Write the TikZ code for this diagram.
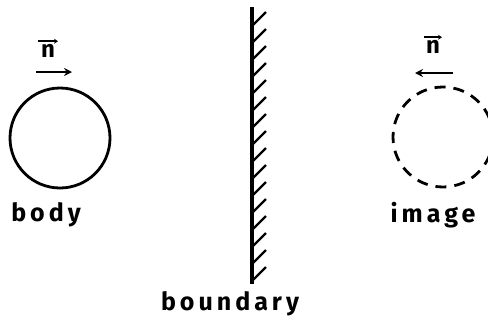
\documentclass[tikz,border=0pt]{standalone}
\usepackage{fontspec}
\setsansfont{Fira Sans}
\usepackage{tikz}
\usetikzlibrary{positioning, arrows.meta}

\begin{document}
\begin{tikzpicture}[
  x=1pt, y=-1pt,
  ball/.style={circle, draw, line width=2.8pt, minimum size=100pt, inner sep=0pt},
  ghost/.style={ball, dash pattern=on 11pt off 8pt},
  arrow/.style={-{Stealth[length=8pt,width=8pt]}, line width=2.6pt},
  vecbar/.style={-{Stealth[length=4pt,width=5pt]}, line width=2pt},
  wall/.style={line width=3.6pt},
  hatch/.style={line width=2.2pt},
  every node/.style={font=\sffamily\bfseries\fontsize{25}{30}\selectfont\addfontfeatures{LetterSpace=16}},
  vlabel/.style={font=\sffamily\bfseries\fontsize{24}{28}\selectfont, inner sep=0pt}
]
\useasboundingbox (0,0) rectangle (488,325);

\node[ball] (body) at (60,138) {};
\node[ghost] (image) at (443,137) {};

\node[below=10pt of body, xshift=-14pt] (bodylbl) {body};
\node[below=10pt of image, xshift=-10pt] (imagelbl) {image};

% normal vectors
\coordinate (nb1) at (36,72);
\coordinate (nb2) at (72,72);
\draw[arrow] (nb1) -- (nb2);
\node[vlabel] (nbody) at (48,51) {n};
\draw[vecbar] ([xshift=-10pt,yshift=3pt]nbody.north) -- ([xshift=10pt,yshift=3pt]nbody.north);

\coordinate (ni1) at (453,73);
\coordinate (ni2) at (415,73);
\draw[arrow] (ni1) -- (ni2);
\node[vlabel] (nimage) at (433,47) {n};
\draw[vecbar] ([xshift=-9pt,yshift=3pt]nimage.north) -- ([xshift=9pt,yshift=3pt]nimage.north);

% boundary
\coordinate (top) at (252,7);
\coordinate (bot) at (252,284);
\draw[wall] (top) -- (bot);
\foreach \y in {12,29,...,270}
  \draw[hatch] (252,\y+14) -- (266,\y);
\node[below=4pt of bot, xshift=-22pt] (wallbl) {boundary};

\end{tikzpicture}
\end{document}
